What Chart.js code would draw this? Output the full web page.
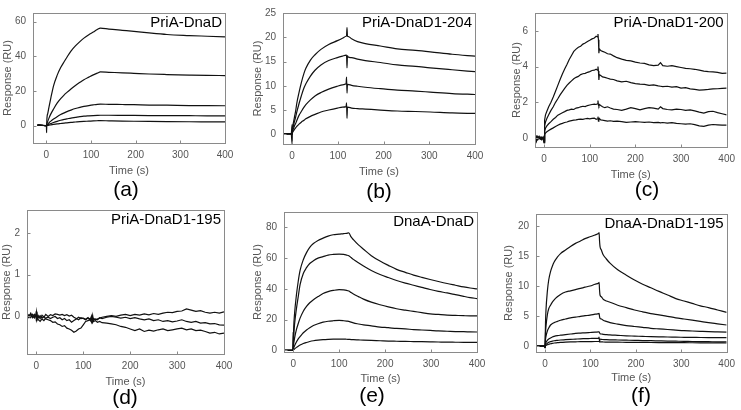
<!DOCTYPE html>
<html>
<head>
<meta charset="utf-8">
<script src="https://cdn.jsdelivr.net/npm/chart.js@4"></script>
<style>
  body { margin: 0; background: #fff; }
  #wrap { position: relative; width: 741px; height: 410px; }
  #wrap canvas { position: absolute; left: 0; top: 0; }
</style>
</head>
<body>
<div id="wrap">
  <canvas id="ca" width="741" height="410"></canvas>
  <canvas id="cb" width="741" height="410"></canvas>
  <canvas id="cc" width="741" height="410"></canvas>
  <canvas id="cd" width="741" height="410"></canvas>
  <canvas id="ce" width="741" height="410"></canvas>
  <canvas id="cf" width="741" height="410"></canvas>
</div>
<script>
const xTicks = [0, 100, 200, 300, 400];

// (a) PriA-DnaD
const timeA = [-20, -10, 0, 0.5, 1, 3, 6, 10, 16, 24, 32, 40, 46, 55, 65, 75, 84, 95, 105, 114, 121, 140, 170, 196, 230, 270, 320, 360, 400];
const a1 = [0.3, 0.2, 0, -4, 3, 7, 11, 16, 23, 29, 33.5, 37, 39.5, 43, 46, 48.5, 50.5, 52.5, 54, 55.5, 56.3, 55.7, 55, 54.4, 53.5, 52.6, 52, 51.6, 51.2];
const a2 = [0.3, 0.2, 0, 0, 1, 2.5, 4.5, 6.8, 9.6, 13, 15.6, 17.8, 19.2, 21.2, 23.2, 25, 26.5, 28, 29.3, 30.3, 31, 30.8, 30.5, 30.2, 29.8, 29.5, 29.2, 29, 28.9];
const a3 = [0.3, 0.2, 0, 0, 0.3, 0.9, 1.7, 2.6, 3.8, 5.2, 6.4, 7.4, 8.1, 9, 9.9, 10.6, 11.1, 11.6, 12, 12.3, 12.4, 12.3, 12.2, 12.1, 11.9, 11.8, 11.6, 11.55, 11.5];
const a4 = [0.3, 0.2, 0, 0, 0.15, 0.4, 0.8, 1.2, 1.8, 2.5, 3.1, 3.6, 3.9, 4.4, 4.8, 5.2, 5.5, 5.7, 5.85, 5.95, 6, 6, 5.95, 5.9, 5.85, 5.8, 5.75, 5.7, 5.7];
const a5 = [0.3, 0.2, 0, 0, 0.05, 0.15, 0.3, 0.45, 0.7, 1, 1.25, 1.5, 1.65, 1.9, 2.1, 2.3, 2.45, 2.6, 2.75, 2.85, 2.9, 2.8, 2.65, 2.55, 2.45, 2.35, 2.25, 2.2, 2.15];
const yTicksA = [0, 20, 40, 60];

// (b) PriA-DnaD1-204
const timeB = [-20, -2, 0, 0.5, 1, 3, 5, 8, 10, 15, 20, 26, 30, 40, 50, 63, 80, 99, 110, 118, 119, 120, 121, 122, 130, 143, 160, 193, 230, 270, 302, 350, 400];
const b1 = [0.1, 0.1, -2, 1, 1.5, 2.5, 3.5, 5, 6.3, 8.6, 10.6, 12.6, 13.6, 15.3, 16.4, 17.5, 18.5, 19.3, 19.8, 20.2, 20.3, 22, 20.2, 20.2, 19.7, 19.1, 18.7, 18.2, 17.6, 17.3, 17, 16.5, 16.1];
const b2 = [0.1, 0.1, 0, 0.6, 1, 1.8, 2.6, 3.7, 4.5, 6.3, 7.9, 9.6, 10.4, 12, 13.2, 14.3, 15.2, 15.8, 16.1, 16.3, 16.3, 13.7, 16.2, 16, 15.8, 15.5, 15.2, 14.8, 14.3, 14, 13.7, 13.3, 12.9];
const b3 = [0.1, 0.1, 0, 0.4, 0.7, 1.2, 1.7, 2.3, 2.8, 3.9, 4.7, 5.6, 6.1, 7.1, 7.9, 8.6, 9.3, 9.9, 10.2, 10.4, 11.8, 8.5, 10.3, 10.3, 10.1, 9.9, 9.7, 9.4, 9.1, 8.9, 8.7, 8.4, 8.2];
const b4 = [0.1, 0.1, 2, 0.2, 0.4, 0.7, 1, 1.4, 1.6, 2.1, 2.5, 2.9, 3.2, 3.7, 4.1, 4.6, 5, 5.4, 5.6, 5.7, 6.5, 3.3, 5.6, 5.6, 5.4, 5.3, 5.2, 5, 4.8, 4.7, 4.6, 4.4, 4.3];
const yTicksB = [0, 5, 10, 15, 20, 25];

// (c) PriA-DnaD1-200
const timeC = [-20, -17, -14, -11, -8, -5, -2, 0, 1, 3, 6, 10, 15, 20, 25, 30, 35, 40, 45, 50, 55, 60, 65, 70, 75, 80, 85, 90, 95, 100, 105, 110, 114, 117, 118, 119, 120, 121, 124, 128, 133, 139, 145, 152, 160, 170, 180, 190, 200, 210, 220, 230, 240, 250, 255, 260, 270, 280, 290, 300, 310, 320, 330, 340, 350, 360, 370, 380, 390, 400];
const c1 = [0.05, -0.2, 0.1, 0, 0.05, -0.05, 0.02, -0.25, 1, 1.3, 1.5, 1.75, 2, 2.3, 2.62, 2.95, 3.28, 3.58, 3.86, 4.12, 4.4, 4.62, 4.85, 4.98, 5.08, 5.14, 5.26, 5.32, 5.4, 5.47, 5.55, 5.6, 5.7, 5.66, 5.82, 5.5, 4.75, 5, 4.9, 4.85, 4.8, 4.72, 4.7, 4.6, 4.5, 4.42, 4.35, 4.32, 4.25, 4.2, 4.18, 4.1, 4.05, 4.08, 4.22, 4.05, 4.02, 4.05, 4, 3.95, 3.9, 3.88, 3.85, 3.8, 3.75, 3.72, 3.7, 3.68, 3.62, 3.63];
const c2 = [-0.05, 0.1, -0.1, 0.05, -0.05, 0.05, -0.05, -0.2, 0.7, 0.9, 1.1, 1.3, 1.55, 1.75, 2, 2.2, 2.42, 2.6, 2.78, 2.95, 3.08, 3.2, 3.32, 3.4, 3.45, 3.55, 3.6, 3.62, 3.68, 3.72, 3.78, 3.8, 3.85, 3.8, 4, 3.75, 3.25, 3.55, 3.5, 3.42, 3.4, 3.35, 3.3, 3.28, 3.2, 3.15, 3.18, 3.1, 3.05, 3.02, 3, 2.95, 2.98, 2.92, 2.9, 2.88, 2.9, 2.85, 2.88, 2.8, 2.82, 2.75, 2.72, 2.68, 2.7, 2.72, 2.75, 2.76, 2.78, 2.8];
const c3 = [0, -0.1, 0.05, -0.05, 0, -0.1, 0.05, -0.25, 0.4, 0.55, 0.68, 0.8, 0.92, 1.05, 1.15, 1.28, 1.35, 1.42, 1.48, 1.55, 1.58, 1.62, 1.6, 1.68, 1.7, 1.75, 1.78, 1.76, 1.82, 1.85, 1.88, 1.9, 1.88, 1.92, 2.1, 1.85, 1.8, 1.88, 1.82, 1.75, 1.7, 1.75, 1.68, 1.62, 1.6, 1.55, 1.62, 1.7, 1.65, 1.58, 1.65, 1.7, 1.68, 1.62, 1.75, 1.65, 1.6, 1.58, 1.62, 1.6, 1.55, 1.58, 1.52, 1.45, 1.4, 1.48, 1.5, 1.42, 1.36, 1.3];
const c4 = [0.05, 0, -0.05, 0.1, -0.05, 0.05, -0.02, -0.15, 0.2, 0.28, 0.35, 0.42, 0.5, 0.57, 0.65, 0.72, 0.78, 0.82, 0.87, 0.9, 0.95, 0.98, 1, 1.02, 1.05, 1.06, 1.05, 1.08, 1.1, 1.08, 1.1, 1.12, 1.05, 1.08, 1.2, 0.95, 1, 1.1, 1.02, 1, 0.98, 0.95, 0.97, 0.93, 0.95, 0.92, 0.88, 0.9, 0.92, 0.9, 0.88, 0.9, 0.86, 0.88, 0.85, 0.87, 0.84, 0.86, 0.82, 0.8, 0.78, 0.8, 0.75, 0.68, 0.65, 0.72, 0.76, 0.74, 0.72, 0.72];
const yTicksC = [0, 2, 4, 6];

// (d) PriA-DnaD1-195
const timeD = [-20, -16, -12, -8, -4, -1, 0, 1, 4, 8, 12, 16, 20, 25, 30, 35, 40, 45, 50, 55, 60, 65, 70, 75, 80, 85, 90, 95, 100, 105, 110, 115, 118, 120, 122, 126, 130, 135, 140, 150, 160, 170, 180, 190, 200, 210, 220, 230, 240, 250, 260, 270, 280, 290, 300, 310, 320, 330, 340, 350, 360, 370, 380, 390, 400];
const d1 = [0.05, 0, 0.08, -0.03, 0.05, 0, 0.12, -0.08, 0.02, -0.05, 0.03, -0.02, 0.05, 0, 0.04, 0.02, 0.06, 0.05, 0.03, 0.05, 0.02, 0.04, 0.01, 0.03, -0.02, -0.05, -0.08, -0.03, -0.05, -0.08, -0.04, -0.06, 0.02, -0.12, -0.05, -0.08, -0.06, -0.04, -0.02, 0, 0.02, 0, 0.03, 0.05, 0.02, 0.05, 0.03, 0.06, 0.04, 0.07, 0.05, 0.08, 0.1, 0.09, 0.12, 0.13, 0.18, 0.15, 0.12, 0.14, 0.1, 0.08, 0.1, 0.08, 0.11];
const d2 = [0, 0.04, -0.03, 0.05, 0, 0.03, -0.1, 0.05, -0.08, -0.12, -0.06, -0.1, -0.04, -0.02, -0.05, -0.02, 0, -0.05, -0.03, -0.08, -0.05, -0.1, -0.08, -0.14, -0.1, -0.06, -0.02, -0.05, -0.04, -0.07, -0.03, -0.1, -0.04, -0.14, -0.09, -0.06, -0.08, -0.03, -0.05, -0.02, 0, -0.02, -0.04, -0.02, -0.05, -0.03, -0.06, -0.08, -0.06, -0.1, -0.08, -0.12, -0.1, -0.13, -0.11, -0.08, -0.12, -0.14, -0.12, -0.16, -0.15, -0.18, -0.17, -0.2, -0.21];
const d3 = [0.02, -0.03, 0.05, 0, -0.04, 0.02, 0.1, -0.06, -0.03, 0.02, -0.04, 0, -0.06, -0.08, -0.1, -0.14, -0.13, -0.18, -0.2, -0.24, -0.22, -0.28, -0.3, -0.33, -0.38, -0.35, -0.3, -0.28, -0.2, -0.12, -0.1, -0.08, -0.15, 0.02, -0.12, -0.1, -0.14, -0.12, -0.15, -0.16, -0.18, -0.2, -0.24, -0.26, -0.3, -0.34, -0.3, -0.36, -0.33, -0.35, -0.32, -0.3, -0.34, -0.32, -0.3, -0.28, -0.32, -0.3, -0.34, -0.33, -0.36, -0.4, -0.38, -0.42, -0.4];
const yTicksD = [0, 1, 2];

// (e) DnaA-DnaD
const timeE = [-20, -1, 0, 0.5, 1, 3, 7, 11, 15, 22, 29, 36, 44, 54, 65, 76, 87, 100, 110, 116, 121, 126, 131, 142, 153, 170, 189, 207, 225, 244, 262, 280, 298, 316, 335, 353, 371, 385, 400];
const e1 = [0, 0, 0, 8, 14, 24, 36, 45, 52, 59, 63.6, 67, 69.5, 71.5, 73, 74.3, 75.2, 75.6, 76, 76.1, 76.4, 73.8, 72, 68.6, 65.8, 61.6, 58.1, 55.3, 52.7, 50.8, 49, 47.5, 46.1, 44.8, 43.5, 42.4, 41.3, 40.6, 40];
const e2 = [0, 0, 0, 5, 9, 17, 27, 35, 42.8, 50, 53.8, 56.5, 58.3, 60, 61, 62, 62.4, 62.6, 62.4, 62, 61.6, 60.4, 59.2, 57, 54.9, 52, 49.4, 47.4, 45.5, 43.8, 42.4, 41, 39.6, 38.4, 37.4, 36.3, 35.2, 34.4, 33.7];
const e3 = [0, 0, 0, 2, 4, 8, 13.5, 17.5, 21, 25.5, 28.6, 31, 33, 35, 37, 38.2, 39, 39.6, 39.4, 39.1, 38.6, 37.6, 36.7, 35, 33.4, 31.4, 29.7, 28.3, 27.1, 26.2, 25.4, 24.6, 23.8, 23.4, 23, 22.8, 22.6, 22.5, 22.5];
const e4 = [0, 0, 0, 0.8, 1.5, 3, 5.5, 7.5, 9, 11.5, 13.3, 14.8, 16.2, 17.4, 18.4, 19, 19.3, 19.5, 19.3, 19.1, 18.9, 18.4, 17.9, 17.2, 16.6, 16, 15.2, 14.8, 14.3, 14, 13.6, 13.3, 13, 12.7, 12.5, 12.3, 12.2, 12.1, 12];
const e5 = [0, 0, 12, 0.3, 0.5, 1, 2, 2.8, 3.5, 4.5, 5.2, 5.8, 6.3, 6.7, 7, 7.2, 7.35, 7.4, 7.4, 7.3, 7.2, 7.1, 7, 6.85, 6.7, 6.5, 6.3, 6.1, 6, 5.9, 5.8, 5.7, 5.6, 5.5, 5.4, 5.35, 5.3, 5.25, 5.2];
const yTicksE = [0, 20, 40, 60, 80];

// (f) DnaA-DnaD1-195
const timeF = [-20, -1, 0, 0.5, 1, 2, 5, 8, 12, 16, 20, 27, 34, 45, 56, 67, 78, 88, 99, 110, 118, 119, 120, 121, 124, 128, 135, 143, 160, 179, 197, 215, 233, 251, 270, 288, 306, 324, 342, 360, 380, 400];
const f1 = [0, 0, -0.2, 2, 4, 6, 9.1, 11, 12.4, 13.3, 14, 14.8, 15.4, 16, 16.6, 17.1, 17.5, 17.9, 18.2, 18.5, 18.8, 18.9, 17.5, 16.6, 16, 15.2, 14.5, 13.8, 12.7, 11.8, 11, 10.3, 9.7, 9.1, 8.5, 7.9, 7.5, 7.1, 6.7, 6.4, 6, 5.6];
const f2 = [0, 0, -0.2, 1.2, 2.2, 3.3, 5.2, 6.2, 6.8, 7.3, 7.7, 8.2, 8.6, 9, 9.2, 9.4, 9.6, 9.8, 10, 10.3, 10.5, 10.6, 9.3, 8.5, 8.2, 7.8, 7.5, 7.3, 6.8, 6.4, 6, 5.7, 5.4, 5.2, 4.95, 4.7, 4.5, 4.3, 4.1, 3.9, 3.7, 3.5];
const f3 = [0, 0, -0.2, 0.6, 1.1, 1.6, 2.5, 3, 3.5, 3.75, 3.9, 4.1, 4.3, 4.5, 4.7, 4.8, 4.95, 5.05, 5.15, 5.3, 5.4, 5.45, 4.9, 4.6, 4.5, 4.3, 4.1, 3.9, 3.65, 3.4, 3.25, 3.1, 2.95, 2.85, 2.75, 2.65, 2.55, 2.5, 2.45, 2.4, 2.35, 2.3];
const f4 = [0, 0, -0.3, 0.2, 0.4, 0.6, 0.95, 1.15, 1.35, 1.5, 1.6, 1.72, 1.8, 1.9, 2, 2.1, 2.15, 2.2, 2.25, 2.3, 2.35, 2.35, 2.2, 2.05, 2, 1.95, 1.9, 1.85, 1.78, 1.7, 1.65, 1.6, 1.55, 1.52, 1.5, 1.47, 1.45, 1.43, 1.42, 1.41, 1.4, 1.4];
const f5 = [0, 0, -0.3, 0.05, 0.15, 0.25, 0.45, 0.6, 0.72, 0.8, 0.88, 0.95, 1, 1.05, 1.1, 1.15, 1.2, 1.22, 1.25, 1.28, 1.3, 1.5, 0.7, 1.15, 1.1, 1.08, 1.05, 1.03, 1, 0.97, 0.94, 0.9, 0.88, 0.85, 0.82, 0.8, 0.78, 0.75, 0.73, 0.72, 0.7, 0.7];
const f6 = [0, 0, -0.2, 0, 0.05, 0.1, 0.2, 0.3, 0.38, 0.45, 0.5, 0.55, 0.6, 0.65, 0.68, 0.7, 0.72, 0.73, 0.74, 0.75, 0.75, 0.75, 0.72, 0.7, 0.68, 0.67, 0.66, 0.65, 0.63, 0.62, 0.6, 0.6, 0.58, 0.57, 0.56, 0.55, 0.55, 0.54, 0.53, 0.52, 0.52, 0.5];
const yTicksF = [0, 5, 10, 15, 20];

const panels = [
  { id: 'ca', name: 'PriA-DnaD', letter: '(a)', time: timeA, series: [a1, a2, a3, a4, a5], yTicks: yTicksA,
    xMin: -30, yMin: -10, yMax: 65, box: [33, 5, 225, 143], yTitleX: 8, xTitleY: 171, letterAt: [126, 190], smooth: true },
  { id: 'cb', name: 'PriA-DnaD1-204', letter: '(b)', time: timeB, series: [b1, b2, b3, b4], yTicks: yTicksB,
    xMin: -20, yMin: -2, yMax: 25, box: [283, 5, 475, 144], yTitleX: 258, xTitleY: 172, letterAt: [379, 192], smooth: true },
  { id: 'cc', name: 'PriA-DnaD1-200', letter: '(c)', time: timeC, series: [c1, c2, c3, c4], yTicks: yTicksC,
    xMin: -20, yMin: -0.5, yMax: 7, box: [535, 6, 732, 147], yTitleX: 517, xTitleY: 175, letterAt: [647, 190], smooth: false },
  { id: 'cd', name: 'PriA-DnaD1-195', letter: '(d)', time: timeD, series: [d1, d2, d3], yTicks: yTicksD,
    xMin: -20, yMin: -0.9, yMax: 2.55, box: [27, 210, 224, 354], yTitleX: 6, xTitleY: 382, letterAt: [125, 398], smooth: false },
  { id: 'ce', name: 'DnaA-DnaD', letter: '(e)', time: timeE, series: [e1, e2, e3, e4, e5], yTicks: yTicksE,
    xMin: -20, yMin: -1, yMax: 90, box: [284, 212, 477, 352], yTitleX: 258, xTitleY: 379, letterAt: [372, 396], smooth: true },
  { id: 'cf', name: 'DnaA-DnaD1-195', letter: '(f)', time: timeF, series: [f1, f2, f3, f4, f5, f6], yTicks: yTicksF,
    xMin: -20, yMin: -1, yMax: 22, box: [536, 214, 729, 352], yTitleX: 509, xTitleY: 378, letterAt: [641, 396], smooth: true }
];

const grey = '#555';
const tickFont = { family: 'Arial', size: 10 };
const titleFont = { family: 'Arial', size: 11 };
const half = 11 * 1.2 / 2;

// frame box, inward tick marks, panel name and letter
const panelDeco = {
  id: 'panelDeco',
  afterDraw(chart, args, opts) {
    const { ctx, chartArea: ca, scales } = chart;
    ctx.save();
    ctx.strokeStyle = '#8a8a8a';
    ctx.lineWidth = 1;
    const l = Math.round(ca.left) + 0.5, t = Math.round(ca.top) + 0.5;
    const r = Math.round(ca.right) + 0.5, b = Math.round(ca.bottom) + 0.5;
    ctx.strokeRect(l, t, r - l, b - t);
    ctx.beginPath();
    scales.x.ticks.forEach(tk => {
      const px = Math.round(scales.x.getPixelForValue(tk.value)) + 0.5;
      ctx.moveTo(px, b); ctx.lineTo(px, b - 3);
    });
    scales.y.ticks.forEach(tk => {
      const py = Math.round(scales.y.getPixelForValue(tk.value)) + 0.5;
      ctx.moveTo(l, py); ctx.lineTo(l + 3, py);
    });
    ctx.stroke();
    ctx.fillStyle = '#000';
    ctx.font = '15px Arial';
    ctx.textAlign = 'right';
    ctx.textBaseline = 'middle';
    ctx.fillText(opts.name, ca.right - 3, ca.top + 10);
    ctx.font = '21px Arial';
    ctx.textAlign = 'center';
    ctx.fillText(opts.letter, opts.at[0], opts.at[1]);
    ctx.restore();
  }
};

panels.forEach(p => {
  const [L, T, R, B] = p.box;
  const padLeft = Math.max(0, p.yTitleX - half);
  const xBottom = p.xTitleY + half;
  new Chart(document.getElementById(p.id), {
    type: 'line',
    data: {
      datasets: p.series.map(s => ({
        data: p.time.map((t, i) => ({ x: t, y: s[i] })),
        borderColor: '#111',
        borderWidth: 1.2,
        pointRadius: 0,
        fill: false,
        tension: 0,
        cubicInterpolationMode: p.smooth ? 'monotone' : 'default'
      }))
    },
    options: {
      responsive: false,
      animation: false,
      events: [],
      layout: { padding: { left: padLeft, top: T, right: 741 - R, bottom: 410 - xBottom } },
      scales: {
        x: {
          type: 'linear',
          min: p.xMin,
          max: 400,
          afterBuildTicks: s => { s.ticks = xTicks.map(v => ({ value: v })); },
          afterFit: s => { s.height = xBottom - B; },
          grid: { display: false, drawTicks: false },
          border: { display: false },
          ticks: { font: tickFont, color: grey, padding: 6, maxRotation: 0, autoSkip: false },
          title: { display: true, text: 'Time (s)', font: titleFont, color: grey, padding: 0 }
        },
        y: {
          type: 'linear',
          min: p.yMin,
          max: p.yMax,
          afterBuildTicks: s => { s.ticks = p.yTicks.map(v => ({ value: v })); },
          afterFit: s => { s.width = L - padLeft; },
          grid: { display: false, drawTicks: false },
          border: { display: false },
          ticks: { font: tickFont, color: grey, padding: 7, autoSkip: false },
          title: { display: true, text: 'Response (RU)', font: titleFont, color: grey, padding: 0 }
        }
      },
      plugins: {
        legend: { display: false },
        tooltip: { enabled: false },
        panelDeco: { name: p.name, letter: p.letter, at: p.letterAt }
      }
    },
    plugins: [panelDeco]
  });
});
</script>
</body>
</html>
